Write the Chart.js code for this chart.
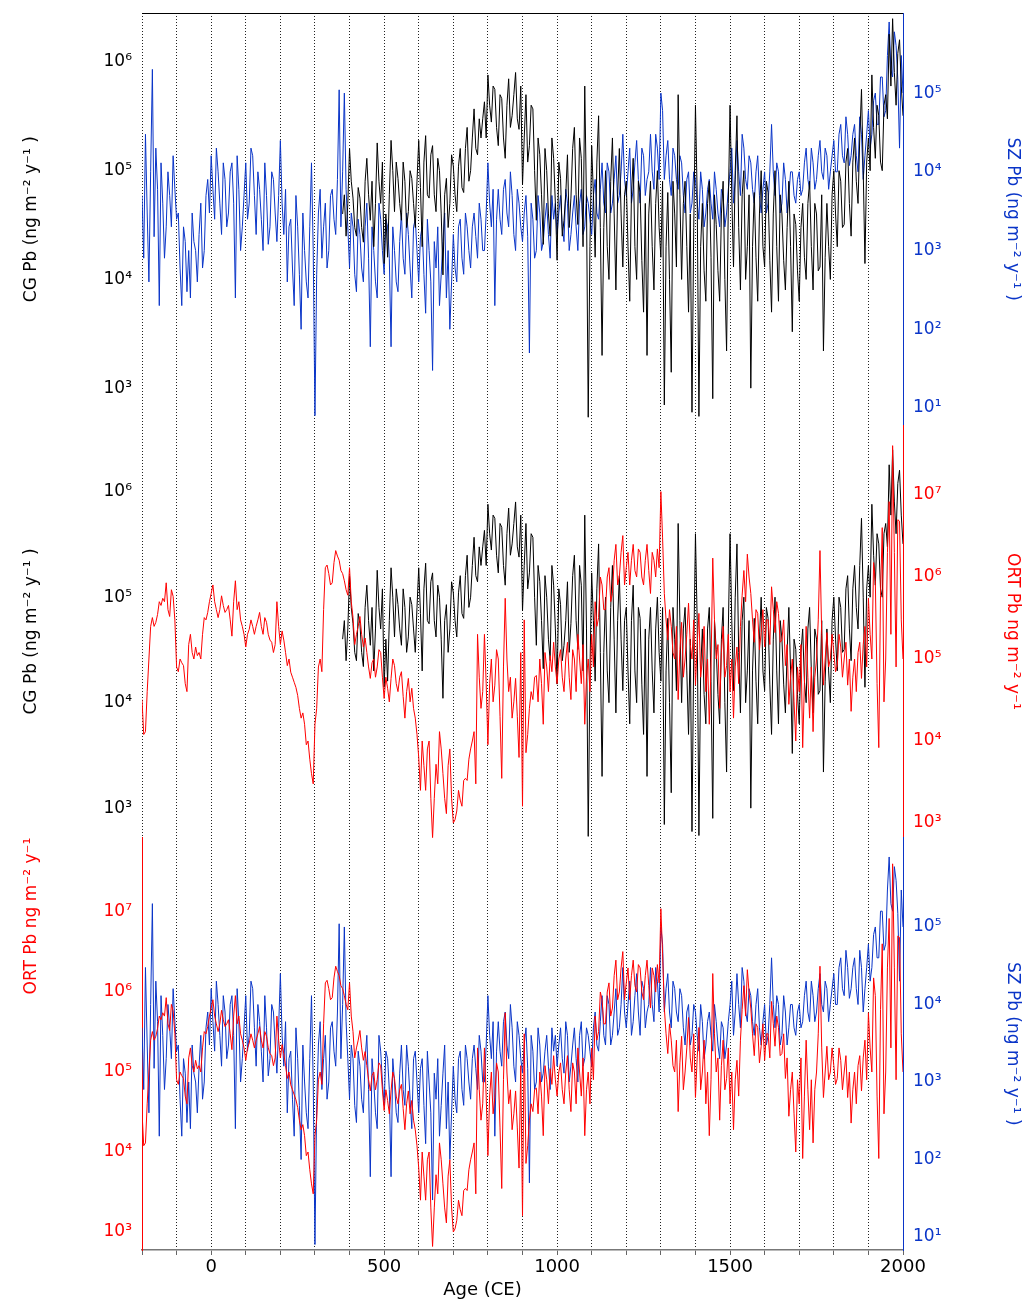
<!DOCTYPE html>
<html>
<head>
<meta charset="utf-8">
<script src="https://cdn.jsdelivr.net/npm/chart.js@4/dist/chart.umd.min.js"></script>
<style>
  html, body { margin: 0; padding: 0; background: #fff; }
  #wrap { position: relative; width: 1033px; height: 1302px; }
</style>
</head>
<body>
<div id="wrap"><canvas id="chart" width="1033" height="1302"></canvas></div>
<script>
// sample ages (CE), one every decade; each series also has a reading at mid-decade (year + 5)
const years = [
  -200, -190, -180, -170, -160, -150, -140, -130, -120, -110,
  -100, -90, -80, -70, -60, -50, -40, -30, -20, -10,
  0, 10, 20, 30, 40, 50, 60, 70, 80, 90,
  100, 110, 120, 130, 140, 150, 160, 170, 180, 190,
  200, 210, 220, 230, 240, 250, 260, 270, 280, 290,
  300, 310, 320, 330, 340, 350, 360, 370, 380, 390,
  400, 410, 420, 430, 440, 450, 460, 470, 480, 490,
  500, 510, 520, 530, 540, 550, 560, 570, 580, 590,
  600, 610, 620, 630, 640, 650, 660, 670, 680, 690,
  700, 710, 720, 730, 740, 750, 760, 770, 780, 790,
  800, 810, 820, 830, 840, 850, 860, 870, 880, 890,
  900, 910, 920, 930, 940, 950, 960, 970, 980, 990,
  1000, 1010, 1020, 1030, 1040, 1050, 1060, 1070, 1080, 1090,
  1100, 1110, 1120, 1130, 1140, 1150, 1160, 1170, 1180, 1190,
  1200, 1210, 1220, 1230, 1240, 1250, 1260, 1270, 1280, 1290,
  1300, 1310, 1320, 1330, 1340, 1350, 1360, 1370, 1380, 1390,
  1400, 1410, 1420, 1430, 1440, 1450, 1460, 1470, 1480, 1490,
  1500, 1510, 1520, 1530, 1540, 1550, 1560, 1570, 1580, 1590,
  1600, 1610, 1620, 1630, 1640, 1650, 1660, 1670, 1680, 1690,
  1700, 1710, 1720, 1730, 1740, 1750, 1760, 1770, 1780, 1790,
  1800, 1810, 1820, 1830, 1840, 1850, 1860, 1870, 1880, 1890,
  1900, 1910, 1920, 1930, 1940, 1950, 1960, 1970, 1980, 1990, 2000
];

// SZ Pb flux (ng m-2 y-1), -200 .. 2000
const szPb = [
  5e3, 3e4, 4e2, 2e5, 2e4, 2e2, 4e3, 2e3, 5e3, 1.6e4,
  2.5e3, 6e2, 2e3, 3e2, 2.5e2, 1.3e3, 4e2, 4e3, 1e3, 8e3,
  1.6e4, 2.5e3, 1e4, 1.6e3, 8e3, 3e3, 1.3e4, 2.5e2, 6e3, 2e3,
  1.3e4, 4e3, 1.6e4, 1.6e3, 6e3, 1e3, 5e3, 2e3, 8e3, 1.3e3,
  2.5e4, 1.6e3, 4e2, 2.5e3, 2e2, 2e3, 1e2, 1e3, 2.5e2, 1.3e4,
  8, 3e3, 8e2, 4e3, 1e3, 6e3, 1.6e3, 1.1e5, 1e4, 6e3,
  6e2, 2e3, 3e2, 1.6e3, 4e2, 4e3, 60, 1e3, 2.5e2, 2.5e3,
  5e2, 2e3, 60, 1e3, 3e2, 3e3, 5e2, 1.6e3, 2.5e2, 2.5e3,
  4e2, 2e3, 1.6e2, 1e3, 30, 6e2, 2e2, 1.3e3, 2.5e2, 1e2,
  1.6e3, 4e2, 2.5e3, 5e2, 2e3, 6e2, 3e3, 8e2, 2.5e3, 1e3,
  1.3e4, 2e3, 2e2, 6e3, 1.6e3, 8e3, 2e3, 5e3, 1e3, 4e3,
  1.3e3, 5e3, 50, 2.5e3, 1e3, 3e3, 1.3e3, 4e3, 8e2, 2.5e3,
  1.6e3, 5e3, 1.3e3, 4e3, 1.6e3, 5e3, 1e3, 6e3, 2e3, 4e3,
  1.6e3, 8e3, 2.5e3, 1.3e4, 3e3, 1e4, 4e3, 1.6e4, 5e3, 3e4,
  5e3, 2e4, 6e3, 2.5e4, 4e3, 1.6e4, 8e3, 3e4, 6e3, 2e4,
  1e5, 8e3, 2.5e4, 5e3, 1.6e4, 6e3, 1.3e4, 3e3, 1e4, 4e3,
  8e3, 2.5e3, 6e3, 3e3, 8e3, 2.5e3, 6e3, 2e3, 5e3, 3e3,
  1e4, 4e3, 2.5e4, 5e3, 2e4, 6e3, 1.3e4, 4e3, 1.6e4, 3e3,
  1e4, 4e3, 4e4, 5e3, 1e4, 4e3, 8e3, 5e3, 1e4, 4e3,
  1e4, 6e3, 2e4, 6e3, 1.3e4, 8e3, 2.5e4, 8e3, 1.6e4, 1e4,
  2.5e4, 1e4, 4e4, 1.3e4, 3e4, 1.6e4, 4e4, 1e4, 3e4, 1.6e4,
  6e4, 3e4, 1e5, 4e4, 1.6e5, 6e4, 8e5, 1.6e5, 4e5, 2e4, 1e5
];
// SZ Pb at mid-decade, -195 .. 1995
const szPbMid = [
  8e2, 3e3, 1e4, 1.5e3, 6e3, 1.3e4, 8e2, 1e4, 2e3, 6e3,
  3e3, 2e2, 1.3e3, 1e3, 3e3, 1e3, 1.6e3, 6e2, 5e3, 3e3,
  6e3, 2e4, 4e3, 1.3e4, 2e3, 1e4, 4e3, 1.6e4, 1e3, 5e3,
  2.5e3, 2e4, 5e3, 1e4, 2.5e3, 1.3e4, 1.2e3, 1e4, 3e3, 5e3,
  4e3, 6e3, 2e3, 6e2, 5e3, 5e2, 3e3, 4e2, 2e3, 1e3,
  5e2, 6e3, 2e3, 6e2, 5e3, 2.5e3, 8e3, 2e3, 1e5, 2e3,
  3e3, 5e2, 2.5e3, 6e2, 2e3, 8e2, 2e3, 4e2, 4e3, 1e3,
  2.5e3, 8e2, 2e3, 4e2, 1.3e3, 8e2, 3e3, 6e2, 2e3, 1e3,
  1.5e3, 5e2, 2.5e3, 4e2, 1.3e3, 2e3, 5e2, 3e3, 1e3, 4e2,
  6e2, 2e3, 8e2, 3e3, 1e3, 2e3, 1.5e3, 4e3, 1e3, 3e3,
  4e3, 6e3, 2.5e3, 2.5e3, 6e3, 3e3, 1e4, 1.6e3, 6e3, 2e3,
  3e3, 1.5e3, 4e3, 8e2, 5e3, 1e3, 2.5e3, 1.6e3, 5e3, 4e3,
  3e3, 2e3, 6e3, 1e3, 3e3, 2e3, 4e3, 1.6e3, 5e3, 2.5e3,
  5e3, 3e3, 6e3, 4e3, 1.3e4, 3e3, 8e3, 4e3, 1e4, 8e3,
  1e4, 4e3, 1.3e4, 8e3, 2e4, 5e3, 1e4, 1e4, 3e4, 8e3,
  6e4, 1.6e4, 8e3, 2e4, 8e3, 1.6e4, 5e3, 8e3, 3e3, 1e4,
  4e3, 1e4, 2e3, 6e3, 4e3, 1e4, 3e3, 6e3, 2e3, 6e3,
  2e4, 8e3, 1e4, 3e4, 8e3, 1.6e4, 6e3, 1e4, 5e3, 6e3,
  3e3, 1e4, 1e4, 1.3e4, 3e3, 1.3e4, 3e3, 1e4, 5e3, 8e3,
  5e3, 1.3e4, 8e3, 2e4, 6e3, 1.6e4, 1e4, 2e4, 6e3, 1.6e4,
  1e4, 3e4, 1.6e4, 5e4, 1.2e4, 3e4, 1.6e4, 5e4, 8e3, 3e4,
  2e4, 8e4, 4e4, 1.6e5, 5e4, 3e5, 2e5, 6e5, 1.5e5, 3e5
];

// CG Pb flux (ng m-2 y-1), record starts at 380 CE
const cgStartIndex = 58;
const cgPb = [
  4e4, 2.5e4, 1.6e5, 5.6e4, 2.5e4, 5.6e4, 2.2e4, 1.3e5, 3.5e4, 2e4,
  1.8e5, 5e4, 1.4e4, 1.6e4, 1.9e5, 4.2e4, 8.5e4, 3.5e4, 8e4, 4.2e4,
  8.5e4, 3e4, 1.9e5, 2e4, 2.1e5, 5.6e4, 1.7e5, 4.2e4, 1e5, 1.1e4,
  8.5e4, 5e4, 1.1e5, 4.2e4, 1.6e5, 6.3e4, 2.5e5, 1e5, 3.7e5, 1.4e5,
  2e5, 4.3e5, 7.6e5, 2.8e5, 5.6e5, 1.7e5, 4.6e5, 1.3e5, 7e5, 3.2e5,
  8e5, 2.4e5, 7.4e4, 5e5, 1.7e5, 3.7e5, 3.5e4, 1.4e5, 2.1e4, 1e5,
  2.5e4, 1.3e5, 1.5e4, 8.5e4, 3.5e4, 1.4e5, 5.6e4, 2.5e5, 3.2e4, 1.3e5,
  6e5, 5.4e2, 1.7e5, 1.6e4, 3.2e5, 2e3, 1e5, 1e4, 2e5, 8e3,
  1.6e5, 1.3e4, 8e4, 6.3e3, 1.3e5, 1e4, 6.3e4, 5e3, 2e3, 8e4,
  8e3, 1e5, 1.6e4, 7e2, 6.3e4, 1.4e3, 4e4, 5e5, 1e4, 8e4,
  5e3, 6e2, 4e5, 5.5e2, 5e4, 6.3e3, 8e4, 8e2, 3.2e4, 6.3e3,
  8e4, 2.2e3, 4e5, 1.3e4, 3.2e5, 8e3, 1e5, 2e4, 1e3, 6.3e4,
  6.3e3, 1e5, 1.3e4, 6.3e4, 5e3, 1e5, 6.3e3, 4e4, 8e3, 8e4,
  3.3e3, 3.2e4, 6.3e3, 5e4, 1e4, 8e4, 8e3, 4e4, 1.3e4, 2.2e3,
  5e4, 1e4, 1e5, 2e4, 8e4, 3.2e4, 1.6e5, 2.5e4, 2e5, 5e4,
  5.6e5, 1.4e4, 2e5, 7.6e5, 1.3e5, 3.2e5, 1e5, 5e5, 1.8e6, 2.5e6,
  4e5, 1.6e6, 3.2e5
];
// CG Pb at mid-decade, 385 .. 1995
const cgPbMid = [
  6e4, 5e4, 8e4, 3e4, 7e4, 3e4, 8e4, 6e4, 8e4, 5e4,
  8e4, 1.2e5, 4e4, 6e4, 1e5, 1.2e5, 5e4, 1.2e5, 3e4, 1e5,
  5e4, 8e4, 7e4, 1.2e5, 6e4, 1.4e5, 6e4, 1.3e5, 4e4, 6e4,
  3e4, 1.4e5, 6e4, 1.1e5, 7e4, 1.6e5, 8e4, 2e5, 1.6e5, 3e5,
  3e5, 2e5, 4e5, 6e5, 2.5e5, 5e5, 2e5, 4e5, 2.5e5, 5e5,
  3e5, 6e5, 2e5, 1.2e5, 4e5, 1e5, 2e5, 6e4, 1.6e5, 4e4,
  2e5, 5e4, 1.2e5, 2.5e4, 6e4, 3e4, 1.6e5, 6e4, 2e5, 2e4,
  5e4, 2e4, 6e4, 1.2e5, 3e4, 3e4, 2e4, 8e4, 4e4, 6e4,
  4e4, 6e4, 2e4, 6e4, 2e4, 8e4, 1.5e4, 5e4, 4e4, 2e4,
  5e4, 3e4, 8e4, 2e4, 1e4, 8e4, 1.3e4, 6e4, 5e4, 2e4,
  4e4, 3e4, 6e4, 2e4, 1.2e4, 5e4, 1.6e4, 6e4, 1.2e4, 4e4,
  1e4, 5e4, 6e4, 1e5, 3e4, 6e4, 1e4, 6e4, 2e4, 1.6e4,
  4e4, 2e4, 8e4, 1.5e4, 4e4, 2e4, 6e4, 1.5e4, 3e4, 2e4,
  4e4, 1.2e4, 3e4, 1.6e4, 5e4, 2e4, 5e4, 1.2e4, 6e4, 1.6e4,
  2e4, 6e4, 4e4, 1e5, 3e4, 1.2e5, 5e4, 1.2e5, 8e4, 2e5,
  1e5, 1.2e5, 1e5, 2.5e5, 4e5, 1.2e5, 4e5, 3e5, 6e5, 8e5,
  1.2e6, 6e5
];

// ORT Pb flux (ng m-2 y-1), -200 .. 2000
const ortPb = [
  3.2e4, 1.3e4, 1e5, 3.2e5, 2.8e5, 5e5, 5.5e5, 8.5e5, 3.3e5, 5.8e5,
  8e4, 1e5, 8.3e4, 4e4, 2e5, 1e5, 1.1e5, 1e5, 3.2e5, 3.7e5,
  6.3e5, 5e5, 3.2e5, 5.9e5, 3.7e5, 4.5e5, 1.9e5, 9e5, 5e5, 2.5e5,
  1.4e5, 2.3e5, 2.5e5, 2.5e5, 3.7e5, 2e5, 2.8e5, 1.7e5, 1.2e5, 5e5,
  1.5e5, 1.7e5, 8.3e4, 6.9e4, 5.2e4, 3.6e4, 1.9e4, 1.6e4, 1e4, 4e3,
  1.6e4, 8e4, 7e4, 1.3e6, 1.1e6, 8.5e5, 2.1e6, 1.6e6, 1.1e6, 7e5,
  1.3e6, 3.2e5, 2e5, 3.3e5, 1.4e5, 1.2e5, 5.8e4, 1e5, 8e4, 1.2e5,
  3.3e4, 4.4e4, 5.8e4, 8.3e4, 4e4, 7e4, 1.9e4, 5.8e4, 4.4e4, 1.9e4,
  6.3e3, 1e4, 2.5e3, 1e4, 6.6e2, 5.2e3, 1.3e4, 4e3, 1.3e3, 8e3,
  1e3, 1.4e3, 1.9e3, 3.3e3, 3.3e3, 8e3, 1.3e4, 2e5, 2.5e4, 2e5,
  9e3, 1e5, 4.8e4, 1e5, 3.5e3, 5.5e5, 4e4, 1.9e4, 5.8e4, 6.3e3,
  1.6e3, 7.2e3, 2.5e4, 3.2e4, 6.3e4, 1e5, 1.6e4, 8e4, 1.1e5, 1.6e5,
  5e4, 1.3e5, 4e4, 1.6e5, 3.2e4, 1e5, 2e5, 5e4, 1.6e4, 1e5,
  2e5, 5e5, 3.2e5, 8e5, 4e5, 1.3e6, 6.3e5, 2.5e6, 1e6, 3.2e6,
  1.3e6, 8e5, 2.5e6, 1e6, 2e6, 8e5, 2.5e6, 6.3e5, 1.6e6, 2.2e6,
  1.1e7, 6.3e5, 1.7e5, 2.5e5, 1e5, 3.2e4, 2.8e5, 1e5, 4.8e5, 1e5,
  4.8e4, 3.6e5, 1e5, 4e4, 1.6e4, 1.7e6, 1e5, 2.5e4, 2.5e5, 8.3e4,
  4e4, 1.9e4, 1.4e5, 2.5e5, 1.2e6, 1.9e6, 6.3e5, 1.6e5, 3.6e5, 2.1e5,
  1.4e5, 3e5, 7.6e5, 2.1e5, 3.6e5, 1.7e5, 8.3e4, 2.8e4, 1e5, 1e4,
  4e4, 8.3e3, 2.5e5, 1.9e4, 1.3e4, 1e5, 2.1e6, 4.8e4, 2.1e5, 1e5,
  1.2e5, 8.3e4, 1.4e5, 1e5, 4.8e4, 2.3e4, 1e5, 1.2e5, 5.8e4, 2.5e5,
  5.5e5, 1e5, 9e5, 8.3e3, 4e6, 1e5, 8.3e6, 4e7, 8e4, 4.8e6, 1e5
];
// ORT Pb at mid-decade, -195 .. 1995
const ortPbMid = [
  1.2e4, 4e4, 2.5e5, 2.5e5, 3.5e5, 4.5e5, 5e5, 4e5, 7e5, 3e5,
  7e4, 9e4, 5e4, 1.5e5, 1.2e5, 1.4e5, 1.2e5, 2e5, 3e5, 5e5,
  8e5, 4e5, 4e5, 4.5e5, 4e5, 3e5, 5e5, 4e5, 3e5, 2e5,
  2e5, 3e5, 2e5, 3e5, 2.5e5, 3.2e5, 2e5, 1.6e5, 1.5e5, 2.5e5,
  2.2e5, 1.2e5, 1e5, 6e4, 4.5e4, 2.5e4, 2.2e4, 9e3, 6e3, 3e3,
  2.5e4, 1e5, 4e5, 1.4e6, 8e5, 1.5e6, 1.8e6, 1.2e6, 9e5, 6e5,
  5e5, 1.5e5, 2.5e5, 2e5, 1.8e5, 8e4, 9e4, 6e4, 1.3e5, 6e4,
  6e4, 3e4, 1e5, 5e4, 6e4, 3.5e4, 4e4, 3e4, 2.5e4, 1.2e4,
  2.5e3, 5e3, 8e3, 2e3, 2e3, 3e3, 8e3, 2e3, 5e3, 2e3,
  1.1e3, 2.5e3, 1.6e3, 3.5e3, 6e3, 1e4, 3e3, 6e4, 4e4, 5e4,
  5e4, 3e4, 1.3e5, 2e4, 8e4, 1e5, 6e4, 3e4, 2e4, 1.2e5,
  3e5, 1.2e4, 4e4, 6e4, 3e4, 5e4, 1.2e5, 4e4, 7e4, 8e4,
  1e5, 6e4, 1e5, 6e4, 1.3e5, 4e4, 1e5, 1.5e5, 6e4, 4e4,
  8e4, 2.5e5, 1e6, 4e5, 1e6, 5e5, 1.6e6, 8e5, 2e6, 8e5,
  2e6, 1.6e6, 1.2e6, 2.2e6, 1e6, 1.6e6, 1.2e6, 2e6, 1e6, 1.3e6,
  3e6, 3e5, 4e5, 1.2e5, 2.5e5, 1.3e5, 6e4, 2e5, 1.5e5, 3e5,
  1.5e5, 6e4, 2.5e5, 1e5, 8e4, 3e5, 1.5e5, 1.2e5, 6e4, 2e5,
  1e5, 8e4, 5e4, 6e5, 5e5, 1e6, 3e5, 4e5, 1.3e5, 4e5,
  3e5, 1.5e5, 4e5, 5e5, 1.6e5, 3e5, 1.5e5, 6e4, 3e4, 8e4,
  1.5e5, 5e4, 6e4, 8e4, 6e4, 3e5, 2e5, 1e5, 8e4, 2e5,
  7e4, 2e5, 6e4, 1.6e5, 1e5, 6e4, 4e4, 1.6e5, 1.5e5, 8e4,
  2e5, 1.5e6, 5e4, 6e5, 3e4, 2e6, 2e5, 2e6, 5e6, 3e5
];

const cgTicks = [1e3, 1e4, 1e5, 1e6];
const szTicks = [1e1, 1e2, 1e3, 1e4, 1e5];
const ortTicks = [1e3, 1e4, 1e5, 1e6, 1e7];
const powerLabels = ['10⁰', '10¹', '10²', '10³', '10⁴', '10⁵', '10⁶', '10⁷'];
const xLabelYears = [0, 500, 1000, 1500, 2000];

const BLUE = '#0a35c8';
const RED = '#ff0000';
const BLACK = '#000000';
Chart.defaults.font.family = "'DejaVu Sans', sans-serif";

// decade readings followed by the mid-decade reading
function series(xs, vals, mids) {
  const out = [];
  vals.forEach((v, i) => {
    out.push({ x: xs[i], y: v });
    if (i < mids.length) out.push({ x: xs[i] + 5, y: mids[i] });
  });
  return out;
}
const cgYears = years.slice(cgStartIndex);
const szData = series(years, szPb, szPbMid);
const cgData = series(cgYears, cgPb, cgPbMid);
const ortData = series(years, ortPb, ortPbMid);

function logAxis(o) {
  const left = o.side === 'left';
  return {
    type: 'logarithmic',
    axis: 'y',
    position: o.side,
    stack: o.side,
    stackWeight: 1,
    weight: o.weight,
    min: o.min,
    max: o.max,
    grid: { display: false, drawTicks: false },
    border: { display: o.border, color: o.color, width: 1 },
    afterBuildTicks: s => { s.ticks = o.ticks.map(v => ({ value: v })); },
    afterFit: s => {
      s.width = left ? 142 : 130;
      s.paddingTop = 0;
      s.paddingBottom = 0;
    },
    ticks: {
      color: o.color,
      padding: 10,
      autoSkip: false,
      font: { size: 17 },
      callback: v => powerLabels[Math.round(Math.log10(v))]
    },
    title: {
      display: true,
      text: o.title,
      color: o.color,
      align: o.align || 'center',
      font: { size: 17 },
      padding: { top: left ? 21 : 10, bottom: 0 }
    }
  };
}

new Chart(document.getElementById('chart'), {
  type: 'line',
  data: {
    datasets: [
      { label: 'CG', data: cgData, xAxisID: 'x', yAxisID: 'yL1', borderColor: BLACK },
      { label: 'SZ', data: szData, xAxisID: 'x', yAxisID: 'yR1', borderColor: BLUE },
      { label: 'ORT', data: ortData, xAxisID: 'x', yAxisID: 'yR2', borderColor: RED },
      { label: 'CG', data: cgData, xAxisID: 'x', yAxisID: 'yL2', borderColor: BLACK },
      { label: 'ORT', data: ortData, xAxisID: 'x', yAxisID: 'yL3', borderColor: RED },
      { label: 'SZ', data: szData, xAxisID: 'x', yAxisID: 'yR3', borderColor: BLUE }
    ]
  },
  options: {
    responsive: false,
    animation: false,
    events: [],
    layout: { padding: 0 },
    elements: {
      point: { radius: 0 },
      line: { borderWidth: 1, tension: 0, fill: false }
    },
    plugins: { legend: { display: false }, tooltip: { enabled: false } },
    scales: {
      x: {
        type: 'linear',
        position: 'bottom',
        min: -200,
        max: 2000,
        afterFit: s => { s.height = 52; },
        ticks: {
          stepSize: 100,
          autoSkip: false,
          maxRotation: 0,
          padding: 2,
          color: BLACK,
          font: { size: 18 },
          callback: v => xLabelYears.includes(v) ? String(v) : ''
        },
        grid: { color: '#222', lineWidth: 1, tickLength: 5, tickColor: '#666', tickWidth: 1 },
        border: { display: true, color: '#777', width: 1.5, dash: [1, 2] },
        title: {
          display: true,
          text: 'Age (CE)              ',
          color: BLACK,
          font: { size: 18 },
          padding: { top: 0, bottom: 1 }
        }
      },
      xTop: {
        type: 'linear',
        axis: 'x',
        position: 'top',
        min: -200,
        max: 2000,
        afterFit: s => { s.height = 13; },
        ticks: { display: false },
        grid: { display: false, drawTicks: false },
        border: { display: true, color: BLACK, width: 1 }
      },
      yL1: logAxis({ side: 'left', weight: 3, min: 455, max: 2.82e6, ticks: cgTicks, color: BLACK, border: false,
        title: 'CG Pb (ng m⁻² y⁻¹ )' }),
      yL2: logAxis({ side: 'left', weight: 2, min: 525, max: 4.26e6, ticks: cgTicks, color: BLACK, border: false,
        title: 'CG Pb (ng m⁻² y⁻¹ )' }),
      yL3: logAxis({ side: 'left', weight: 1, min: 596, max: 8.49e7, ticks: ortTicks, color: RED, border: true,
        title: 'ORT Pb ng m⁻² y⁻¹', align: 'end' }),
      yR1: logAxis({ side: 'right', weight: 1, min: 6.03, max: 1.04e6, ticks: szTicks, color: BLUE, border: true,
        title: 'SZ Pb (ng m⁻² y⁻¹ )' }),
      yR2: logAxis({ side: 'right', weight: 2, min: 662, max: 7.08e7, ticks: ortTicks, color: RED, border: true,
        title: 'ORT Pb ng m⁻² y⁻¹' }),
      yR3: logAxis({ side: 'right', weight: 3, min: 6.8, max: 1.42e6, ticks: szTicks, color: BLUE, border: true,
        title: 'SZ Pb (ng m⁻² y⁻¹ )' })
    }
  }
});
</script>
</body>
</html>
